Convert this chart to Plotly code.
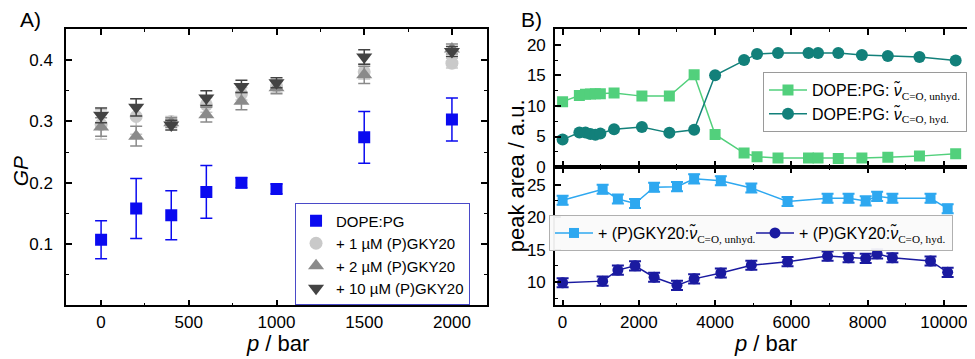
import plotly.graph_objects as go

# ---- panel A: GP vs pressure ----
p_gp = [0, 200, 400, 600, 800, 1000, 1500, 2000]
gp_pure = [0.107, 0.158, 0.147, 0.185, 0.200, 0.190, 0.274, 0.303]
gp_pure_err = [0.031, 0.049, 0.040, 0.043, 0.008, 0.008, 0.042, 0.035]
gp_1uM = [0.295, 0.308, 0.300, 0.327, 0.345, 0.357, 0.381, 0.395]
gp_1uM_err = [0.024, 0.029, 0.008, 0.012, 0.010, 0.010, 0.012, 0.008]
gp_2uM = [0.291, 0.276, 0.298, 0.311, 0.333, 0.355, 0.376, 0.418]
gp_2uM_err = [0.015, 0.016, 0.008, 0.012, 0.014, 0.010, 0.014, 0.008]
gp_10uM = [0.310, 0.323, 0.294, 0.338, 0.357, 0.363, 0.405, 0.414]
gp_10uM_err = [0.012, 0.014, 0.008, 0.012, 0.010, 0.008, 0.012, 0.008]

# ---- panel B top: DOPE:PG peak areas ----
p_top = [0, 440, 600, 730, 860, 990, 1350, 2080, 2800, 3450, 4000, 4760,
         5100, 5650, 6450, 6700, 7230, 7850, 8530, 9360, 10310]
area_unhyd = [10.7, 11.7, 11.9, 11.95, 12.0, 12.0, 12.1, 11.6, 11.6, 15.1, 5.35,
              2.3, 1.7, 1.5, 1.5, 1.5, 1.4, 1.5, 1.6, 1.8, 2.2]
area_hyd = [4.5, 5.65, 5.65, 5.4, 5.3, 5.5, 6.2, 6.55, 5.6, 6.1, 15.0,
            17.5, 18.5, 18.65, 18.65, 18.65, 18.65, 18.3, 18.15, 18.0, 17.4]

# ---- panel B bottom: + (P)GKY20 peak areas ----
p_bot = [0, 1050, 1450, 1900, 2400, 3000, 3450, 4150, 4950, 5900, 6950,
         7500, 7950, 8250, 8650, 9650, 10100]
pep_unhyd = [22.6, 24.3, 22.8, 22.1, 24.6, 24.7, 25.9, 25.6, 24.5, 22.4, 22.9,
             22.9, 22.5, 23.2, 22.9, 22.9, 21.3]
pep_unhyd_err = [0.7] * 17
pep_hyd = [9.9, 10.15, 11.85, 12.5, 10.75, 9.5, 10.5, 11.4, 12.6, 13.15, 14.0,
           13.75, 13.65, 14.35, 13.75, 13.25, 11.5]
pep_hyd_err = [0.7] * 17

p_ticks_b = [0, 2000, 4000, 6000, 8000, 10000]

FONT = "Liberation Sans, Arial, sans-serif"
nu = "<i>ν̃</i>"


def sub(txt):
    return "<sub><span style=\"font-family:'Liberation Serif'\">" + txt + "</span></sub>"


fig = go.Figure()

# panel A traces
fig.add_trace(go.Scatter(
    x=p_gp, y=gp_pure, mode="markers", name="DOPE:PG", legend="legend",
    marker=dict(symbol="square", size=12, color="#0a0af0"),
    error_y=dict(type="data", array=gp_pure_err, color="#0a0af0", thickness=1.5, width=6),
    xaxis="x", yaxis="y"))
fig.add_trace(go.Scatter(
    x=p_gp, y=gp_1uM, mode="markers", name="+ 1 µM (P)GKY20", legend="legend",
    marker=dict(symbol="circle", size=13, color="#c9c9c9"),
    error_y=dict(type="data", array=gp_1uM_err, color="#c9c9c9", thickness=1.5, width=6),
    xaxis="x", yaxis="y"))
fig.add_trace(go.Scatter(
    x=p_gp, y=gp_2uM, mode="markers", name="+ 2 µM (P)GKY20", legend="legend",
    marker=dict(symbol="triangle-up", size=14, color="#8a8a8a"),
    error_y=dict(type="data", array=gp_2uM_err, color="#8a8a8a", thickness=1.5, width=6),
    xaxis="x", yaxis="y"))
fig.add_trace(go.Scatter(
    x=p_gp, y=gp_10uM, mode="markers", name="+ 10 µM (P)GKY20", legend="legend",
    marker=dict(symbol="triangle-down", size=14, color="#434343"),
    error_y=dict(type="data", array=gp_10uM_err, color="#434343", thickness=1.5, width=6),
    xaxis="x", yaxis="y"))

# panel B top traces
fig.add_trace(go.Scatter(
    x=p_top, y=area_unhyd, mode="lines+markers", legend="legend2",
    name="DOPE:PG: " + nu + sub("C=O, unhyd."),
    line=dict(color="#52d07c", width=1.5),
    marker=dict(symbol="square", size=11, color="#52d07c"),
    xaxis="x2", yaxis="y2"))
fig.add_trace(go.Scatter(
    x=p_top, y=area_hyd, mode="lines+markers", legend="legend2",
    name="DOPE:PG: " + nu + sub("C=O, hyd."),
    line=dict(color="#12807a", width=1.5),
    marker=dict(symbol="circle", size=12, color="#12807a"),
    xaxis="x2", yaxis="y2"))

# panel B bottom traces
fig.add_trace(go.Scatter(
    x=p_bot, y=pep_unhyd, mode="lines+markers", legend="legend3",
    name="+ (P)GKY20:" + nu + sub("C=O, unhyd."),
    line=dict(color="#2ea8f0", width=1.5),
    marker=dict(symbol="square", size=10, color="#2ea8f0"),
    error_y=dict(type="data", array=pep_unhyd_err, color="#2ea8f0", thickness=2, width=6),
    xaxis="x3", yaxis="y3"))
fig.add_trace(go.Scatter(
    x=p_bot, y=pep_hyd, mode="lines+markers", legend="legend3",
    name="+ (P)GKY20:" + nu + sub("C=O, hyd."),
    line=dict(color="#1a1aa0", width=1.5),
    marker=dict(symbol="circle", size=11, color="#1a1aa0"),
    error_y=dict(type="data", array=pep_hyd_err, color="#1a1aa0", thickness=2, width=6),
    xaxis="x3", yaxis="y3"))

axis_common = dict(showline=True, linecolor="black", linewidth=1.5, mirror="allticks",
                   ticks="inside", ticklen=6, tickwidth=1.5, tickcolor="black",
                   showgrid=False, zeroline=False,
                   tickfont=dict(family=FONT, size=17, color="black"))
minor_common = dict(ticks="inside", ticklen=3, tickwidth=1.2, tickcolor="black", showgrid=False)

fig.update_layout(
    width=975, height=359,
    margin=dict(l=0, r=0, t=0, b=0),
    paper_bgcolor="white", plot_bgcolor="white",
    font=dict(family=FONT, color="black"),
    xaxis=dict(domain=[0.0595, 0.4913], anchor="y", range=[-200, 2200],
               tickvals=[0, 500, 1000, 1500, 2000],
               minor=dict(tickvals=[250, 750, 1250, 1750], **minor_common), **axis_common),
    yaxis=dict(domain=[0.1476, 0.9387], anchor="x", range=[0, 0.45],
               tickvals=[0.1, 0.2, 0.3, 0.4], ticktext=["0.1", "0.2", "0.3", "0.4"],
               ticklabelstandoff=8,
               minor=dict(tickvals=[0.05, 0.15, 0.25, 0.35], **minor_common), **axis_common),
    xaxis2=dict(domain=[0.561, 0.997], anchor="y2", range=[-200, 10950],
                tickvals=p_ticks_b, showticklabels=False,
                minor=dict(tickvals=[1000, 3000, 5000, 7000, 9000], **minor_common), **axis_common),
    yaxis2=dict(domain=[0.544, 0.9387], anchor="x2", range=[0, 22.5],
                tickvals=[0, 5, 10, 15, 20], ticklabelstandoff=4,
                minor=dict(tickvals=[2.5, 7.5, 12.5, 17.5], **minor_common), **axis_common),
    xaxis3=dict(domain=[0.561, 0.997], anchor="y3", range=[-200, 10950],
                tickvals=p_ticks_b, ticktext=[str(v) for v in p_ticks_b],
                minor=dict(tickvals=[1000, 3000, 5000, 7000, 9000], **minor_common), **axis_common),
    yaxis3=dict(domain=[0.1476, 0.544], anchor="x3", range=[6.4, 27.7],
                tickvals=[10, 15, 20, 25], ticklabelstandoff=4,
                minor=dict(tickvals=[7.5, 12.5, 17.5, 22.5], **minor_common), **axis_common),
    legend=dict(x=0.2944, y=0.1476, xanchor="left", yanchor="bottom",
                bgcolor="white", bordercolor="#4a4ac8", borderwidth=1,
                font=dict(family=FONT, size=15, color="black"),
                tracegroupgap=0, itemwidth=30),
    legend2=dict(x=755 / 975, y=1 - 66 / 359, xanchor="left", yanchor="top",
                 bgcolor="white", bordercolor="#9a9a9a", borderwidth=1,
                 font=dict(family=FONT, size=16, color="black"), itemwidth=38),
    legend3=dict(x=541 / 975, y=1 - 213 / 359, xanchor="left", yanchor="top", orientation="h",
                 bgcolor="rgba(250,250,250,0.95)", bordercolor="#b0b0b0", borderwidth=1,
                 entrywidth=148, entrywidthmode="pixels",
                 font=dict(family=FONT, size=16, color="black"), itemwidth=38),
    annotations=[
        dict(text="A)", x=10 / 975, y=1 - 12 / 359, xref="paper", yref="paper",
             xanchor="left", yanchor="middle", showarrow=False,
             font=dict(family=FONT, size=21, color="black")),
        dict(text="B)", x=511 / 975, y=1 - 12 / 359, xref="paper", yref="paper",
             xanchor="left", yanchor="middle", showarrow=False,
             font=dict(family=FONT, size=21, color="black")),
        dict(text="<i>GP</i>", x=12 / 975, y=1 - 168 / 359, xref="paper", yref="paper",
             xanchor="center", yanchor="middle", textangle=-90, showarrow=False,
             font=dict(family=FONT, size=21, color="black")),
        dict(text="peak area / a.u.", x=508 / 975, y=1 - 172 / 359, xref="paper", yref="paper",
             xanchor="center", yanchor="middle", textangle=-90, showarrow=False,
             font=dict(family=FONT, size=22, color="black")),
        dict(text="<i>p</i> / bar", x=269 / 975, y=1 - 345 / 359, xref="paper", yref="paper",
             xanchor="center", yanchor="middle", showarrow=False,
             font=dict(family=FONT, size=22, color="black")),
        dict(text="<i>p</i> / bar", x=757 / 975, y=1 - 345 / 359, xref="paper", yref="paper",
             xanchor="center", yanchor="middle", showarrow=False,
             font=dict(family=FONT, size=22, color="black")),
    ],
)

fig.write_html("out.html")
